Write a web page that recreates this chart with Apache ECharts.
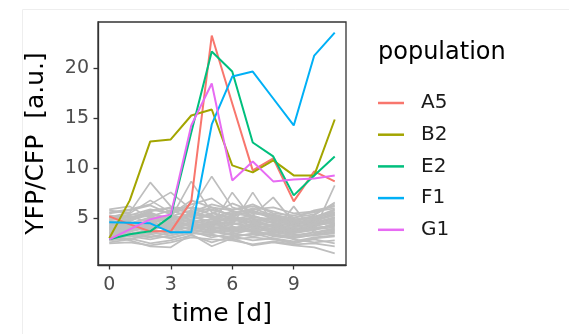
<!DOCTYPE html>
<html>
<head>
<meta charset="utf-8">
<script src="https://cdn.jsdelivr.net/npm/echarts@6/dist/echarts.min.js"></script>
<style>
  html, body { margin: 0; padding: 0; background: #fff; }
  #chart { width: 569px; height: 334px; }
</style>
</head>
<body>
<div id="chart"></div>
<script>
// time points (days)
const times = [0, 1, 2, 3, 4, 5, 6, 7, 8, 9, 10, 11];
const xTicks = [0, 3, 6, 9];
const yTicks = [5, 10, 15, 20];

// highlighted populations
const popNames = ["A5", "B2", "E2", "F1", "G1"];
const popColors = ["#F8766D", "#A3A500", "#00BF7D", "#00B0F6", "#E76BF3"];
const A5 = [5.2, 4.4, 3.7, 3.7, 6.7, 23.3, 16.5, 9.8, 11.0, 6.7, 9.7, 8.7];
const B2 = [3.0, 6.8, 12.7, 12.9, 15.3, 15.9, 10.3, 9.6, 10.8, 9.3, 9.3, 14.9];
const E2 = [2.9, 3.4, 3.7, 5.2, 13.6, 21.7, 19.7, 12.6, 11.2, 7.3, 9.3, 11.2];
const F1 = [4.6, 4.55, 4.5, 3.6, 3.6, 14.4, 19.2, 19.7, 17.0, 14.3, 21.3, 23.6];
const G1 = [2.9, 3.9, 4.9, 5.4, 14.3, 18.5, 8.8, 10.7, 8.7, 8.9, 9.0, 9.3];
const popValues = [A5, B2, E2, F1, G1];

// background populations (grey)
const greyValues = [
  [4.2, 4.5, 5.1, 4.6, 4.9, 5.3, 4.4, 4.8, 4.1, 3.9, 4.3, 4.6],
  [3.6, 3.9, 4.4, 5.2, 4.1, 4.7, 5.0, 4.2, 3.8, 3.5, 3.9, 4.4],
  [5.1, 5.6, 8.6, 6.2, 5.4, 6.1, 5.2, 5.8, 4.9, 4.3, 4.8, 5.5],
  [2.9, 3.3, 3.1, 3.6, 4.2, 3.8, 3.4, 3.9, 3.2, 3.0, 3.4, 3.7],
  [4.8, 5.2, 4.6, 5.0, 8.7, 5.6, 4.9, 5.3, 4.6, 4.2, 4.5, 5.0],
  [3.3, 2.8, 2.2, 2.1, 3.4, 2.2, 3.0, 2.3, 2.6, 2.3, 2.1, 1.5],
  [5.6, 5.9, 6.4, 7.6, 5.9, 9.2, 6.1, 5.5, 5.2, 4.8, 5.1, 5.9],
  [4.0, 4.3, 3.8, 4.4, 4.8, 4.3, 7.6, 4.9, 4.2, 3.7, 4.0, 4.3],
  [3.8, 4.1, 4.7, 4.0, 4.4, 4.9, 4.3, 7.6, 4.5, 4.0, 3.8, 4.5],
  [4.5, 4.8, 5.5, 5.0, 5.4, 5.1, 5.7, 5.3, 7.1, 4.6, 4.9, 5.3],
  [3.1, 3.4, 3.9, 3.5, 3.9, 4.2, 3.7, 4.1, 3.6, 6.2, 3.5, 3.9],
  [4.9, 5.3, 5.9, 5.5, 6.1, 5.8, 5.4, 6.0, 5.3, 5.0, 5.8, 6.2],
  [3.5, 3.7, 4.2, 3.9, 4.5, 4.0, 3.9, 4.4, 3.9, 3.6, 3.8, 8.3],
  [2.6, 2.9, 3.4, 3.0, 3.6, 3.3, 3.1, 3.5, 3.0, 2.7, 3.1, 3.3],
  [4.4, 4.6, 4.0, 4.8, 5.2, 4.6, 4.5, 4.2, 4.7, 4.4, 4.6, 5.1],
  [5.3, 5.0, 5.8, 6.0, 5.6, 6.4, 5.9, 6.2, 5.7, 5.1, 5.4, 6.5],
  [3.9, 4.2, 3.6, 3.3, 3.9, 3.6, 4.2, 3.7, 3.4, 3.2, 3.6, 4.0],
  [4.6, 4.9, 5.3, 4.4, 5.7, 5.0, 4.8, 5.1, 4.9, 4.5, 4.7, 5.4],
  [3.4, 3.6, 4.9, 4.3, 4.6, 3.9, 3.6, 3.9, 3.7, 3.4, 3.3, 3.6],
  [5.8, 5.5, 6.8, 5.6, 6.4, 7.0, 5.6, 5.9, 6.1, 5.5, 5.7, 6.0],
  [4.1, 3.8, 4.3, 3.8, 4.2, 4.4, 4.6, 4.0, 4.4, 3.8, 4.1, 4.2],
  [3.0, 3.2, 2.9, 3.3, 3.7, 3.1, 3.5, 3.2, 3.5, 2.9, 2.6, 2.8],
  [4.7, 4.4, 5.0, 5.3, 4.9, 5.5, 5.1, 4.6, 5.0, 4.7, 4.4, 4.8],
  [3.7, 4.0, 4.5, 4.1, 4.0, 4.6, 3.8, 4.3, 3.9, 3.7, 4.2, 4.7],
  [5.0, 5.4, 5.2, 5.8, 5.1, 5.9, 5.3, 5.6, 5.4, 4.9, 5.2, 5.6],
  [2.8, 3.0, 2.5, 2.8, 3.3, 2.6, 3.2, 2.8, 3.0, 2.6, 2.9, 2.5],
  [4.3, 4.7, 5.6, 4.7, 5.5, 5.2, 4.9, 4.5, 4.3, 4.1, 4.5, 5.1],
  [3.2, 3.5, 3.8, 3.6, 3.8, 3.5, 4.0, 3.6, 3.3, 3.1, 3.3, 3.5],
  [5.5, 5.8, 6.3, 5.4, 6.8, 6.1, 5.8, 6.4, 5.5, 5.3, 5.6, 6.3],
  [4.0, 4.4, 4.1, 4.5, 4.3, 4.0, 4.4, 4.7, 4.1, 3.9, 4.3, 4.9],
  [3.6, 3.3, 3.5, 3.9, 4.1, 3.7, 3.3, 3.4, 3.6, 3.3, 3.6, 3.8],
  [4.5, 4.2, 4.8, 5.1, 4.7, 4.9, 4.7, 5.0, 4.5, 4.3, 4.8, 5.3],
  [3.3, 3.5, 3.2, 3.1, 3.5, 3.4, 2.9, 3.1, 2.9, 2.5, 3.0, 3.2],
  [4.8, 5.1, 5.4, 4.9, 5.3, 4.6, 5.2, 4.8, 5.1, 4.8, 5.0, 5.6],
  [3.9, 3.7, 4.1, 4.2, 4.4, 4.1, 4.1, 3.8, 4.0, 3.6, 3.9, 4.1],
  [5.2, 4.8, 5.7, 6.1, 6.0, 5.4, 6.5, 5.7, 5.2, 4.5, 4.9, 5.8],
  [2.5, 2.6, 2.3, 2.6, 3.1, 2.9, 2.8, 2.4, 2.7, 2.4, 2.5, 2.2],
  [4.2, 4.6, 4.4, 4.0, 4.6, 4.5, 4.0, 4.5, 3.8, 4.1, 4.4, 4.5],
  [3.5, 3.9, 4.0, 4.6, 4.3, 4.3, 4.5, 4.1, 4.2, 3.8, 4.0, 4.3],
  [5.9, 6.2, 5.0, 5.2, 5.8, 5.0, 5.5, 5.2, 4.8, 4.6, 5.3, 6.6],
];

const FONT = "DejaVu Sans";

const toPoints = (vals) => vals.map((v, i) => [times[i], v]);

const greySeries = greyValues.map((vals, i) => ({
  name: "bg" + i,
  type: "line",
  symbol: "none",
  silent: true,
  lineStyle: { color: "#BEBEBE", width: 1.7 },
  data: toPoints(vals),
}));

const popSeries = popNames.map((name, i) => ({
  name,
  type: "line",
  symbol: "none",
  lineStyle: { color: popColors[i], width: 2 },
  itemStyle: { color: popColors[i] },
  data: toPoints(popValues[i]),
}));

const chart = echarts.init(document.getElementById("chart"));
chart.setOption({
  animation: false,
  backgroundColor: "#fff",
  title: {
    text: "population",
    left: 378,
    top: 41,
    padding: 0,
    textStyle: { fontFamily: FONT, fontSize: 24, fontWeight: "normal", color: "#000" },
  },
  legend: {
    data: popNames,
    orient: "vertical",
    left: 378,
    top: 93,
    padding: 0,
    itemWidth: 26,
    itemHeight: 2.5,
    itemGap: 11.7,
    icon: "rect",
    textStyle: { fontFamily: FONT, fontSize: 20, lineHeight: 20, color: "#1A1A1A", padding: [0, 0, 0, 12] },
  },
  grid: {
    left: 98, right: 223, top: 22, bottom: 69,
    show: true, borderColor: "#333333", borderWidth: 1.3, backgroundColor: "transparent",
  },
  xAxis: {
    type: "value",
    min: -0.55,
    max: 11.55,
    name: "time [d]",
    nameLocation: "middle",
    nameGap: 37,
    nameTextStyle: { fontFamily: FONT, fontSize: 25, color: "#000" },
    axisLine: { show: true, onZero: false, lineStyle: { color: "#333333", width: 1.3 } },
    axisTick: { show: true, length: 4.5, customValues: xTicks, lineStyle: { color: "#333333", width: 1.3 } },
    axisLabel: { customValues: xTicks, margin: 11, fontFamily: FONT, fontSize: 19, color: "#4D4D4D" },
    splitLine: { show: false },
  },
  yAxis: {
    type: "value",
    min: 0.33,
    max: 24.66,
    name: "YFP/CFP  [a.u.]",
    nameLocation: "middle",
    nameGap: 49,
    nameTextStyle: { fontFamily: FONT, fontSize: 25, color: "#000" },
    axisLine: { show: true, onZero: false, lineStyle: { color: "#333333", width: 1.3 } },
    axisTick: { show: true, length: 4.5, customValues: yTicks, lineStyle: { color: "#333333", width: 1.3 } },
    axisLabel: { customValues: yTicks, margin: 9, fontFamily: FONT, fontSize: 19, color: "#4D4D4D" },
    splitLine: { show: false },
  },
  graphic: [
    { type: "line", shape: { x1: 22.5, y1: 9.5, x2: 569, y2: 9.5 }, style: { stroke: "#EEEEEE", lineWidth: 1 }, silent: true },
    { type: "line", shape: { x1: 22.5, y1: 9.5, x2: 22.5, y2: 334 }, style: { stroke: "#EEEEEE", lineWidth: 1 }, silent: true },
  ],
  series: [...greySeries, ...popSeries],
});
</script>
</body>
</html>
